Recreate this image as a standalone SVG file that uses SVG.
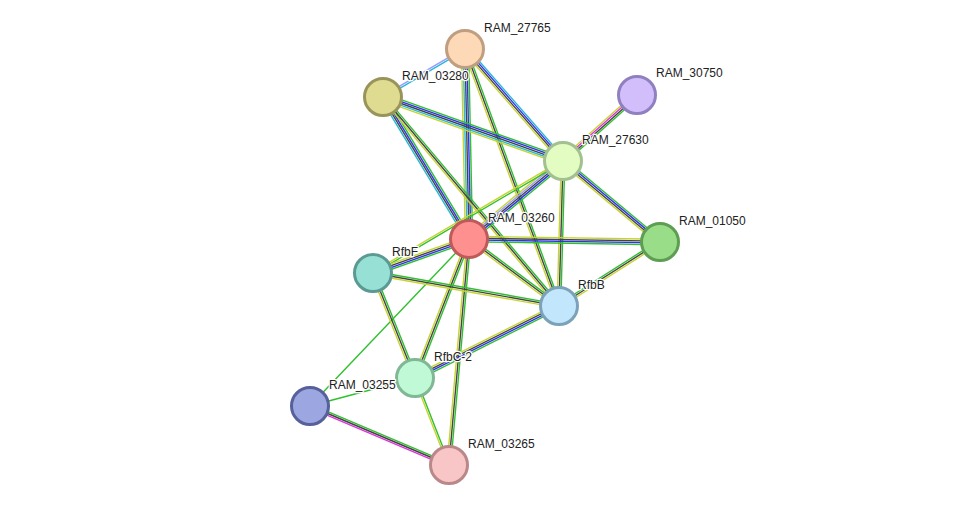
<svg xmlns="http://www.w3.org/2000/svg" width="976" height="511" viewBox="0 0 976 511">
<style>
line{stroke-width:1.4;fill:none}
.g{stroke:#2fc02f}.b{stroke:#3030f0}.k{stroke:#444}.y{stroke:#c6d432}.c{stroke:#28b8d8}.m{stroke:#dd33dd}.l{stroke:#9a9aff}
circle{stroke-width:3}
text{font-family:"Liberation Sans",Arial,sans-serif;font-size:12px;fill:#222;stroke:#fff;stroke-width:2.5;paint-order:stroke;stroke-linejoin:round}
</style>
<rect width="976" height="511" fill="#fff"/>
<g id="edges">
<g transform="translate(465 49) rotate(149.65)"><line class="c" x2="95" y1="-0.9" y2="-0.9"/><line class="l" x2="95" y1="0.9" y2="0.9"/></g>
<g transform="translate(465 49) rotate(88.8)"><line class="g" x2="190" y1="-3.6" y2="-3.6"/><line class="b" x2="190" y1="-1.8" y2="-1.8"/><line class="k" x2="190"/><line class="c" x2="190" y1="1.8" y2="1.8"/><line class="y" x2="190" y1="3.6" y2="3.6"/></g>
<g transform="translate(465 49) rotate(48.8)"><line class="c" x2="148.8" y1="-2.7" y2="-2.7"/><line class="b" x2="148.8" y1="-0.9" y2="-0.9"/><line class="k" x2="148.8" y1="0.9" y2="0.9"/><line class="y" x2="148.8" y1="2.7" y2="2.7"/></g>
<g transform="translate(465 49) rotate(69.9)"><line class="g" x2="273.7" y1="-1.8" y2="-1.8"/><line class="k" x2="273.7"/><line class="y" x2="273.7" y1="1.8" y2="1.8"/></g>
<g transform="translate(383 97) rotate(19.6)"><line class="g" x2="191" y1="-3.6" y2="-3.6"/><line class="b" x2="191" y1="-1.8" y2="-1.8"/><line class="k" x2="191"/><line class="c" x2="191" y1="1.8" y2="1.8"/><line class="y" x2="191" y1="3.6" y2="3.6"/></g>
<g transform="translate(383 97) rotate(58.8)"><line class="g" x2="166" y1="-2.7" y2="-2.7"/><line class="b" x2="166" y1="-0.9" y2="-0.9"/><line class="k" x2="166" y1="0.9" y2="0.9"/><line class="c" x2="166" y1="2.7" y2="2.7"/></g>
<g transform="translate(383 97) rotate(49.9)"><line class="g" x2="273.2" y1="-1.8" y2="-1.8"/><line class="k" x2="273.2"/><line class="y" x2="273.2" y1="1.8" y2="1.8"/></g>
<g transform="translate(637 95) rotate(138.3)"><line class="g" x2="99.2" y1="-2.7" y2="-2.7"/><line class="k" x2="99.2" y1="-0.9" y2="-0.9"/><line class="m" x2="99.2" y1="0.9" y2="0.9"/><line class="y" x2="99.2" y1="2.7" y2="2.7"/></g>
<g transform="translate(563 161) rotate(140.3)"><line class="g" x2="122.1" y1="-3.6" y2="-3.6"/><line class="b" x2="122.1" y1="-1.8" y2="-1.8"/><line class="k" x2="122.1"/><line class="l" x2="122.1" y1="1.8" y2="1.8"/><line class="y" x2="122.1" y1="3.6" y2="3.6"/></g>
<g transform="translate(563 161) rotate(149.5)"><line class="g" x2="220.6" y1="-0.9" y2="-0.9"/><line class="y" x2="220.6" y1="0.9" y2="0.9"/></g>
<g transform="translate(563 161) rotate(91.6)"><line class="g" x2="145.1" y1="-1.8" y2="-1.8"/><line class="k" x2="145.1"/><line class="y" x2="145.1" y1="1.8" y2="1.8"/></g>
<g transform="translate(563 161) rotate(39.9)"><line class="g" x2="126.4" y1="-2.7" y2="-2.7"/><line class="b" x2="126.4" y1="-0.9" y2="-0.9"/><line class="k" x2="126.4" y1="0.9" y2="0.9"/><line class="y" x2="126.4" y1="2.7" y2="2.7"/></g>
<g transform="translate(469 239) rotate(0.9)"><line class="y" x2="191" y1="-2.7" y2="-2.7"/><line class="k" x2="191" y1="-0.9" y2="-0.9"/><line class="b" x2="191" y1="0.9" y2="0.9"/><line class="g" x2="191" y1="2.7" y2="2.7"/></g>
<g transform="translate(469 239) rotate(160.5)"><line class="g" x2="101.8" y1="-2.7" y2="-2.7"/><line class="b" x2="101.8" y1="-0.9" y2="-0.9"/><line class="k" x2="101.8" y1="0.9" y2="0.9"/><line class="y" x2="101.8" y1="2.7" y2="2.7"/></g>
<g transform="translate(469 239) rotate(36.7)"><line class="g" x2="112.2" y1="-1.8" y2="-1.8"/><line class="k" x2="112.2"/><line class="y" x2="112.2" y1="1.8" y2="1.8"/></g>
<g transform="translate(469 239) rotate(111.2)"><line class="g" x2="149.1" y1="-1.8" y2="-1.8"/><line class="k" x2="149.1"/><line class="y" x2="149.1" y1="1.8" y2="1.8"/></g>
<g transform="translate(469 239) rotate(95.1)"><line class="g" x2="226.9" y1="-1.8" y2="-1.8"/><line class="k" x2="226.9"/><line class="y" x2="226.9" y1="1.8" y2="1.8"/></g>
<g transform="translate(469 239) rotate(133.6)"><line class="g" x2="230.6"/></g>
<g transform="translate(373 273) rotate(10.1)"><line class="g" x2="188.9" y1="-1.8" y2="-1.8"/><line class="k" x2="188.9"/><line class="y" x2="188.9" y1="1.8" y2="1.8"/></g>
<g transform="translate(373 273) rotate(68.2)"><line class="g" x2="113.1" y1="-1.8" y2="-1.8"/><line class="k" x2="113.1"/><line class="y" x2="113.1" y1="1.8" y2="1.8"/></g>
<g transform="translate(559 306) rotate(-32.4)"><line class="g" x2="119.6" y1="-1.8" y2="-1.8"/><line class="k" x2="119.6"/><line class="y" x2="119.6" y1="1.8" y2="1.8"/></g>
<g transform="translate(559 306) rotate(153.4)"><line class="g" x2="161" y1="-2.7" y2="-2.7"/><line class="b" x2="161" y1="-0.9" y2="-0.9"/><line class="k" x2="161" y1="0.9" y2="0.9"/><line class="y" x2="161" y1="2.7" y2="2.7"/></g>
<g transform="translate(415 378) rotate(165.1)"><line class="g" x2="108.7"/></g>
<g transform="translate(415 378) rotate(68.7)"><line class="g" x2="93.4" y1="-0.9" y2="-0.9"/><line class="y" x2="93.4" y1="0.9" y2="0.9"/></g>
<g transform="translate(310 406) rotate(23)"><line class="g" x2="151" y1="-1.8" y2="-1.8"/><line class="k" x2="151"/><line class="m" x2="151" y1="1.8" y2="1.8"/></g>
</g>
<g id="RAM_27765"><circle cx="465" cy="49" r="18.5" fill="#fdd9b8" stroke="#c09e80"/><text x="484" y="32">RAM_27765</text></g>
<g id="RAM_03280"><circle cx="383" cy="97" r="18.5" fill="#dfdb91" stroke="#99955a"/><text x="402" y="80">RAM_03280</text></g>
<g id="RAM_30750"><circle cx="637" cy="95" r="18.5" fill="#d2befb" stroke="#9080c0"/><text x="656" y="77">RAM_30750</text></g>
<g id="RAM_27630"><circle cx="563" cy="161" r="18.5" fill="#e2fcc2" stroke="#a2c090"/><text x="582" y="144">RAM_27630</text></g>
<g id="RAM_03260"><circle cx="469" cy="239" r="18.5" fill="#fe9090" stroke="#bf5a5a"/><text x="488" y="222">RAM_03260</text></g>
<g id="RAM_01050"><circle cx="660" cy="242" r="18.5" fill="#99dd88" stroke="#5e9e52"/><text x="679" y="225">RAM_01050</text></g>
<g id="RfbF"><circle cx="373" cy="273" r="18.5" fill="#97e0d6" stroke="#5a9a92"/><text x="392" y="256">RfbF</text></g>
<g id="RfbB"><circle cx="559" cy="306" r="18.5" fill="#c2e6fb" stroke="#7ca2ba"/><text x="578" y="289">RfbB</text></g>
<g id="RfbC-2"><circle cx="415" cy="378" r="18.5" fill="#bff9d5" stroke="#80b896"/><text x="434" y="361">RfbC-2</text></g>
<g id="RAM_03255"><circle cx="310" cy="406" r="18.5" fill="#9ca6e0" stroke="#56609a"/><text x="329" y="389">RAM_03255</text></g>
<g id="RAM_03265"><circle cx="449" cy="465" r="18.5" fill="#f8c6c6" stroke="#ba8888"/><text x="468" y="448">RAM_03265</text></g>
</svg>
